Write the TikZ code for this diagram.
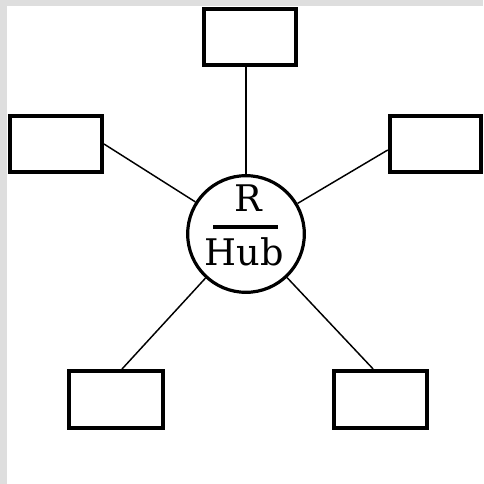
\documentclass[tikz,border=0pt]{standalone}
\usepackage{fontspec}
\newfontfamily\hubfont{DejaVu Serif}
\usepackage{tikz}
\definecolor{edgegrey}{RGB}{222,222,222}
\tikzset{
  leaf/.style={draw=black, fill=white, line width=3pt, rectangle, inner sep=0pt,
    minimum width=69pt, minimum height=42pt},
  hubnode/.style={draw=black, fill=white, line width=2.4pt, circle, inner sep=0pt,
    minimum size=87.5pt},
  link/.style={draw=black, line width=1.1pt},
  lbl/.style={inner sep=0pt, anchor=base, font=\hubfont\fontsize{27.5}{28}\selectfont}
}
\begin{document}
\begin{tikzpicture}[x=0.75pt, y=-0.75pt]
\useasboundingbox (0,0) rectangle (483,484);
\fill[edgegrey] (0,0) rectangle (483,484);
\fill[white] (7,6) rectangle (483,484);

\node[hubnode] (hub) at (246,234) {};
\node[leaf] (top) at (250,37) {};
\node[leaf, minimum height=41.5pt] (left) at (56,144) {};
\node[leaf, minimum width=68.6pt, minimum height=42.6pt] (right) at (435.5,144) {};
\node[leaf, minimum width=70.5pt, minimum height=42.7pt] (bl) at (116,399.5) {};
\node[leaf, minimum width=69.8pt, minimum height=42.7pt] (br) at (380.5,399.5) {};

\draw[link] (top.south -| hub.north) -- (hub.north);
\draw[link] (left.east) -- (hub);
\draw[link] ([yshift=-4.5pt]right.west) -- (hub);
\draw[link] ([xshift=4.5pt]bl.north) -- (hub);
\draw[link] ([xshift=-5.5pt]br.north) -- (hub);

\node[lbl] (r) at (248,212) {R};
\node[lbl] (hubtext) at (244,265) {Hub};
\draw[line width=3pt] (213,227) -- (278,227);
\end{tikzpicture}
\end{document}
